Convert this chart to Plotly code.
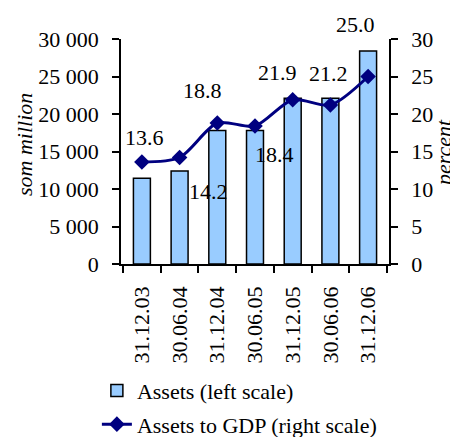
import plotly.graph_objects as go

dates = ["31.12.03", "30.06.04", "31.12.04", "30.06.05", "31.12.05", "30.06.06", "31.12.06"]
assets = [11450, 12400, 17800, 17800, 22100, 22100, 28400]
assets_to_gdp = [13.6, 14.2, 18.8, 18.4, 21.9, 21.2, 25.0]

FONT = "Liberation Serif"
SIZE = 22
NAVY = "#000080"

fig = go.Figure()

fig.add_trace(go.Bar(
    x=dates,
    y=assets,
    name="Assets (left scale)",
    marker=dict(color="#99CCFF", line=dict(color="black", width=1.5)),
    width=0.45,
    legendgroup="a",
))

fig.add_trace(go.Scatter(
    x=dates,
    y=assets_to_gdp,
    name="Assets to GDP (right scale)",
    yaxis="y2",
    mode="lines+markers",
    line=dict(color=NAVY, width=3, shape="spline", smoothing=0.8),
    marker=dict(symbol="diamond", size=12, color=NAVY),
    legendgroup="b",
))

# étiquettes de valeurs, décalées comme sur l'original
shifts = [(3, 25), (29, -34), (-15, 33), (19, -28), (-15, 27), (-2, 32), (-13, 52)]
for d, v, (dx, dy) in zip(dates, assets_to_gdp, shifts):
    fig.add_annotation(
        x=d, y=v, xref="x", yref="y2",
        text=f"{v:.1f}", showarrow=False,
        xshift=dx, yshift=dy,
        font=dict(family=FONT, size=SIZE, color="black"),
    )

# titres des axes
fig.add_annotation(
    x=-0.358, y=0.529, xref="paper", yref="paper",
    xanchor="center", yanchor="middle",
    text="<i>som million</i>", textangle=-90, showarrow=False,
    font=dict(family=FONT, size=SIZE, color="black"),
)
fig.add_annotation(
    x=1.255, y=0.493, xref="paper", yref="paper",
    xanchor="right", yanchor="middle",
    text="<i>percent</i>", textangle=-90, showarrow=False,
    font=dict(family=FONT, size=SIZE, color="black"),
)

axis_common = dict(
    showline=True, linecolor="black", linewidth=1.5,
    ticks="outside", ticklen=7, tickwidth=1.5, tickcolor="black",
    showgrid=False, zeroline=False, automargin=False,
    tickfont=dict(family=FONT, size=SIZE, color="black"),
)

# la page html ajoute 8 px de marge : on compense
fig.update_layout(
    width=458,
    height=445,
    margin=dict(l=113, r=77, t=31, b=189, autoexpand=False),
    plot_bgcolor="white",
    paper_bgcolor="white",
    separators=". ",
    font=dict(family=FONT, size=SIZE, color="black"),
    xaxis=dict(
        **axis_common,
        tickangle=-90,
        tickson="boundaries",
        ticklabelstandoff=12,
    ),
    yaxis=dict(
        **axis_common,
        range=[0, 30000],
        dtick=5000,
        tickformat=",d",
        ticklabelstandoff=9,
    ),
    yaxis2=dict(
        **axis_common,
        overlaying="y",
        side="right",
        range=[0, 30],
        dtick=5,
        ticklabelstandoff=9,
    ),
    legend=dict(
        x=-0.09, y=-0.47, xanchor="left", yanchor="top",
        orientation="v",
        traceorder="grouped",
        tracegroupgap=2,
        font=dict(family=FONT, size=SIZE),
        bgcolor="rgba(0,0,0,0)",
    ),
    showlegend=True,
    bargap=0.55,
)

fig.write_html("out.html")
